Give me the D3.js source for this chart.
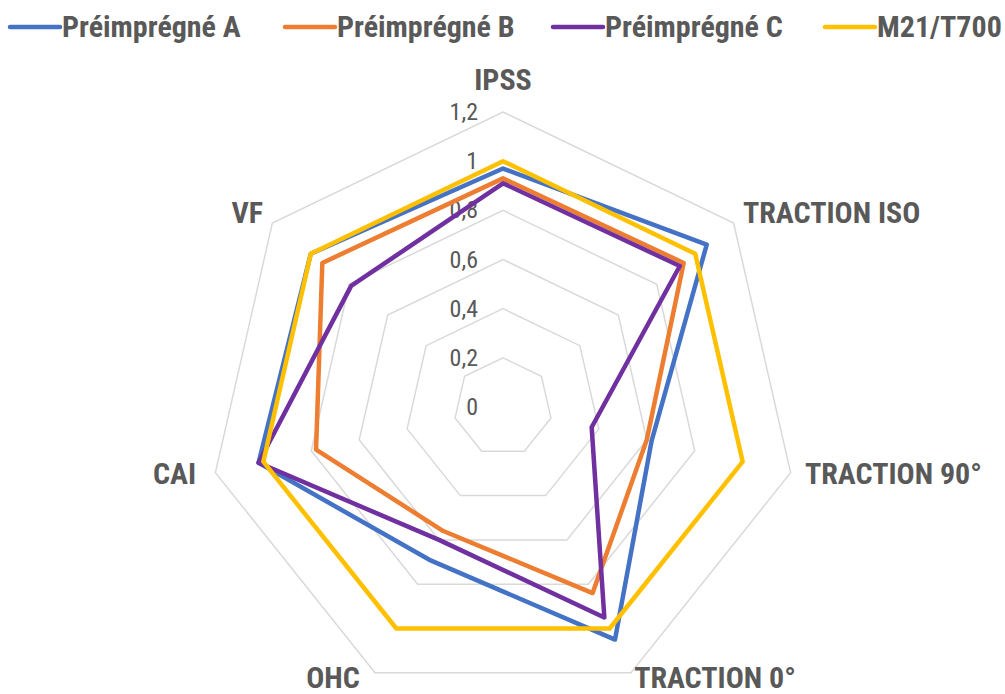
<!DOCTYPE html>
<html>
<head>
<meta charset="utf-8">
<script src="https://cdn.jsdelivr.net/npm/d3@7"></script>
<style>
  html, body { margin: 0; padding: 0; background: #fff; }
  svg { display: block; }
  text { font-family: "Liberation Sans Narrow", "Roboto Condensed", "Liberation Sans", sans-serif; fill: #595959; }
</style>
</head>
<body>
<svg id="chart" width="1005" height="694"></svg>
<script>
// Axes of the radar, clockwise from the top
const categories = ["IPSS", "TRACTION ISO", "TRACTION 90°", "TRACTION 0°", "OHC", "CAI", "VF"];

// Normalised values per material
const seriesNames = ["Préimprégné A", "Préimprégné B", "Préimprégné C", "M21/T700"];
const valuesA   = [0.97, 1.06, 0.62, 1.05, 0.69, 1.02, 1.00];
const valuesB   = [0.93, 0.94, 0.60, 0.84, 0.56, 0.78, 0.94];
const valuesC   = [0.91, 0.92, 0.37, 0.95, 0.60, 1.02, 0.79];
const valuesM21 = [1.00, 1.00, 1.00, 1.00, 1.00, 1.00, 1.00];

const tickValues = [0, 0.2, 0.4, 0.6, 0.8, 1, 1.2];
const tickLabels = ["0", "0,2", "0,4", "0,6", "0,8", "1", "1,2"];

const colors = ["#4472C4", "#ED7D31", "#7030A0", "#FFC000"];
const allValues = [valuesA, valuesB, valuesC, valuesM21];

const svg = d3.select("#chart");
const cx = 503, cy = 407;
const r = d3.scaleLinear().domain([0, 1.2]).range([0, 295]);
const angle = d3.scalePoint().domain(categories).range([0, 2 * Math.PI * (categories.length - 1) / categories.length]);

const pt = (cat, v) => {
  const a = angle(cat);
  return [cx + r(v) * Math.sin(a), cy - r(v) * Math.cos(a)];
};

// Grid rings
const g = svg.append("g");
tickValues.filter(t => t > 0).forEach(t => {
  g.append("path")
    .attr("d", d3.line()(categories.map(c => pt(c, t))) + "Z")
    .attr("fill", "none")
    .attr("stroke", "#d9d9d9")
    .attr("stroke-width", 1.5);
});

// Tick labels along the top axis
g.selectAll("text.tick")
  .data(tickValues)
  .join("text")
  .attr("class", "tick")
  .attr("x", cx - 25)
  .attr("y", d => cy - r(d) + 8)
  .attr("text-anchor", "end")
  .attr("font-size", 24)
  .text((d, i) => tickLabels[i]);

// Category labels
const labelPos = {
  "IPSS":          { x: 503, y: 90,  anchor: "middle" },
  "TRACTION ISO":  { x: 743, y: 223, anchor: "start" },
  "TRACTION 90°":  { x: 805, y: 484, anchor: "start" },
  "TRACTION 0°":   { x: 715, y: 688, anchor: "middle" },
  "OHC":           { x: 333, y: 688, anchor: "middle" },
  "CAI":           { x: 196, y: 484, anchor: "end" },
  "VF":            { x: 263, y: 223, anchor: "end" }
};
svg.append("g").selectAll("text")
  .data(categories)
  .join("text")
  .attr("x", d => labelPos[d].x)
  .attr("y", d => labelPos[d].y)
  .attr("text-anchor", d => labelPos[d].anchor)
  .attr("font-size", 30)
  .attr("font-weight", "bold")
  .text(d => d);

// Series polygons
const lineGen = d3.line();
svg.append("g").selectAll("path")
  .data(allValues)
  .join("path")
  .attr("d", vals => lineGen(categories.map((c, i) => pt(c, vals[i]))) + "Z")
  .attr("fill", "none")
  .attr("stroke", (d, i) => colors[i])
  .attr("stroke-width", 4.5)
  .attr("stroke-linejoin", "round");

// Legend
const legendX = [10, 285, 553, 825];
const legend = svg.append("g").selectAll("g")
  .data(seriesNames)
  .join("g")
  .attr("transform", (d, i) => `translate(${legendX[i]},27)`);
legend.append("line")
  .attr("x1", 0).attr("x2", 50)
  .attr("y1", 0).attr("y2", 0)
  .attr("stroke", (d, i) => colors[i])
  .attr("stroke-width", 4.5)
  .attr("stroke-linecap", "round");
legend.append("text")
  .attr("x", 52)
  .attr("y", 10)
  .attr("font-size", 30)
  .attr("font-weight", "bold")
  .text(d => d);
</script>
</body>
</html>
